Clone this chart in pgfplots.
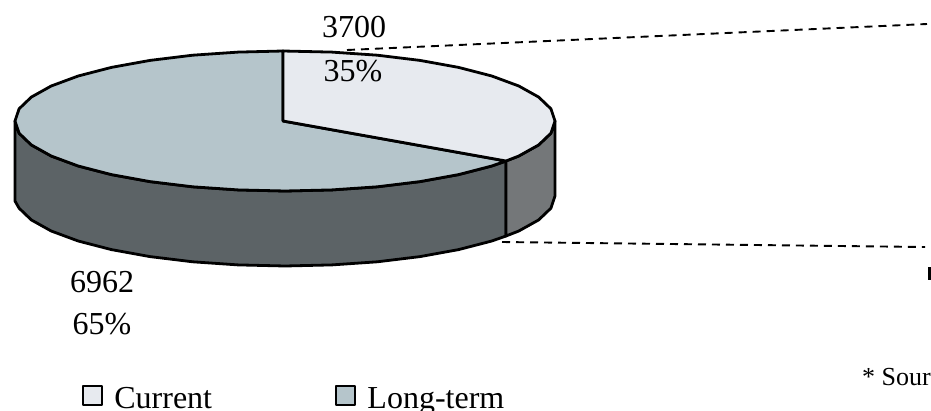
\documentclass[border=0pt]{standalone}
\usepackage{pgfplots}
\pgfplotsset{compat=1.18}
\usepackage{fontspec}
\setmainfont{Liberation Serif}
\definecolor{curtop}{HTML}{E7EAEF}
\definecolor{longtop}{HTML}{B5C5CB}
\definecolor{longside}{HTML}{5C6366}
\definecolor{curside}{HTML}{747779}
\begin{document}
\begin{tikzpicture}
\path[clip] (0,0) rectangle (931pt,410pt);
\begin{axis}[
  at={(0,0)},anchor=south west,
  scale only axis,width=931pt,height=410pt,
  xmin=0,xmax=931,ymin=0,ymax=410,y dir=reverse,
  axis lines=none,clip=true,
  legend columns=2,
  legend cell align=left,
  legend style={draw=none,fill=none,at={(axis cs:82,385)},anchor=north west,
    inner sep=0pt,outer sep=0pt,font=\fontsize{32}{34}\selectfont,
    /tikz/every even column/.append style={column sep=123pt},
    nodes={inner sep=0pt,text depth=0pt}},
  legend image code/.code={\draw[#1,line width=2.3pt] (1pt,-7pt) rectangle (20pt,12pt);\path (32pt,0pt);},
  every axis plot/.append style={line join=round,line cap=round},
]
\addlegendimage{draw=black,fill=curtop}
\addlegendentry{Current}
\addlegendimage{draw=black,fill=longtop}
\addlegendentry{Long-term}
% long-term side wall
\addplot[forget plot,draw=black,fill=longside,line width=2.8pt] coordinates {
 (506,161)(491.8,166)(458.6,174.6)(420,181.6)(377.3,186.8)(331.9,189.9)(285,191)(238.1,189.9)(192.7,186.8)(150,181.6)(111.4,174.6)(78.2,166)(51.2,156)(31.3,144.9)(19.1,133.2)(15,121)
 (15,201)(19.1,208.2)(31.3,219.9)(51.2,231)(78.2,241)(111.4,249.6)(150,256.6)(192.7,261.8)(238.1,264.9)(285,266)(331.9,264.9)(377.3,261.8)(420,256.6)(458.6,249.6)(491.8,241)(506,236)
} -- cycle;
% current side wall
\addplot[forget plot,draw=black,fill=curside,line width=2.8pt] coordinates {
 (555,121)(550.9,133.2)(538.7,144.9)(518.8,156)(506,161)(506,236)(518.8,231)(538.7,219.9)(550.9,208.2)(555,196)
} -- cycle;
% long-term top
\addplot[forget plot,draw=black,fill=longtop,line width=2.8pt] coordinates {
 (283,121)(506,161)(491.8,166)(458.6,174.6)(420,181.6)(377.3,186.8)(331.9,189.9)(285,191)(238.1,189.9)(192.7,186.8)(150,181.6)(111.4,174.6)(78.2,166)(51.2,156)(31.3,144.9)(19.1,133.2)(15,121)(19.1,108.8)(31.3,97.1)(51.2,86)(78.2,76)(111.4,67.4)(150,60.4)(192.7,55.2)(238.1,52.1)(283,51)
} -- cycle;
% current top
\addplot[forget plot,draw=black,fill=curtop,line width=2.8pt] coordinates {
 (283,121)(283,51)(331.9,52.1)(377.3,55.2)(420,60.4)(458.6,67.4)(491.8,76)(518.8,86)(538.7,97.1)(550.9,108.8)(555,121)(550.9,133.2)(538.7,144.9)(518.8,156)(506,161)
} -- cycle;
% leader lines
\addplot[forget plot,draw=black,line width=1.9pt,dash pattern=on 8pt off 6pt,line cap=butt] coordinates {(347,50)(927,24)};
\addplot[forget plot,draw=black,line width=1.9pt,dash pattern=on 8pt off 6pt,line cap=butt] coordinates {(502,242)(925,247)};
\addplot[forget plot,draw=black,line width=3pt,line cap=butt] coordinates {(929.5,267)(929.5,280)};
\node[anchor=base,font=\fontsize{32}{34}\selectfont,inner sep=0pt] at (axis cs:354,37) {3700};
\node[anchor=base,font=\fontsize{32}{34}\selectfont,inner sep=0pt] at (axis cs:353,81) {35\%};
\node[anchor=base,font=\fontsize{32}{34}\selectfont,inner sep=0pt] at (axis cs:102,292) {6962};
\node[anchor=base,font=\fontsize{32}{34}\selectfont,inner sep=0pt] at (axis cs:102,334) {65\%};
\node[anchor=base west,font=\fontsize{26}{28}\selectfont,inner sep=0pt] at (axis cs:862,385) {* Sour};
\end{axis}
\end{tikzpicture}
\end{document}
